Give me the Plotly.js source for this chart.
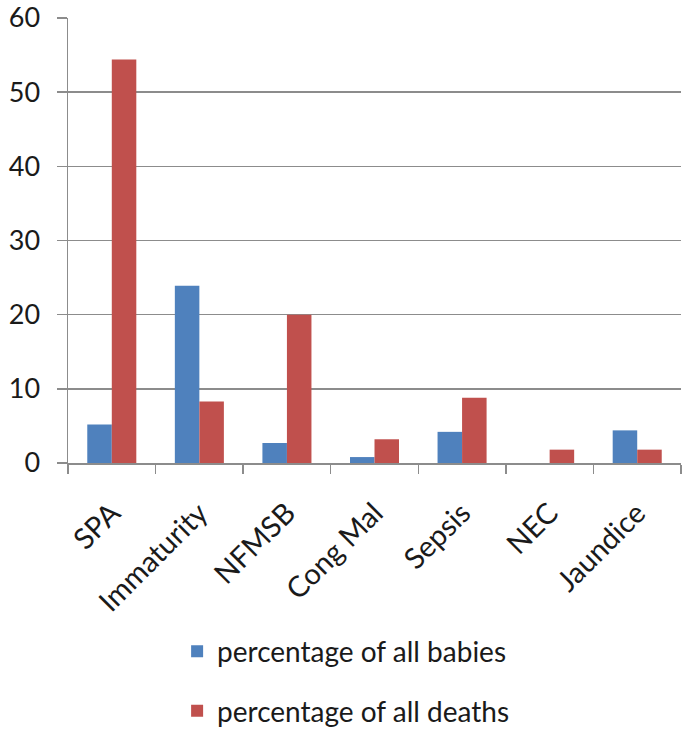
<!DOCTYPE html>
<html>
<head>
<meta charset="utf-8">
<script src="https://cdn.plot.ly/plotly-3.0.1.min.js"></script>
<style>
  html, body { margin: 0; padding: 0; background: #fff; }
  #chart { width: 686px; height: 732px; }
</style>
</head>
<body>
<div id="chart"></div>
<script>
// categories and series
const causes = ['SPA', 'Immaturity', 'NFMSB', 'Cong Mal', 'Sepsis', 'NEC', 'Jaundice'];
const pctBabies = [5.2, 23.9, 2.7, 0.8, 4.2, 0, 4.4];
const pctDeaths = [54.4, 8.3, 20, 3.2, 8.8, 1.8, 1.8];
const yTicks = [0, 10, 20, 30, 40, 50, 60];

const fontFam = 'Lato, "Open Sans", sans-serif';

let babies = {
    x: causes,
    y: pctBabies,
    name: 'percentage of all babies',
    type: 'bar',
    legendgroup: 'a',
    marker: { color: '#4F81BD', line: { width: 0 } }
};

let deaths = {
    x: causes,
    y: pctDeaths,
    name: 'percentage of all deaths',
    type: 'bar',
    legendgroup: 'b',
    marker: { color: '#C0504D', line: { width: 0 } }
};

let layout = {
    width: 686,
    height: 732,
    margin: { l: 68, r: 5, t: 18, b: 269, autoexpand: false },
    paper_bgcolor: '#ffffff',
    plot_bgcolor: '#ffffff',
    font: { family: fontFam, size: 26, color: '#1a1a1a' },
    barmode: 'group',
    bargap: 0.44,
    bargroupgap: 0,
    showlegend: true,
    legend: {
        orientation: 'v',
        x: 0.178,
        xanchor: 'left',
        yref: 'container',
        y: 0.144,
        yanchor: 'top',
        tracegroupgap: 20,
        font: { family: fontFam, size: 28, color: '#1a1a1a' },
        itemwidth: 30
    },
    xaxis: {
        type: 'category',
        tickangle: -45,
        tickson: 'boundaries',
        ticks: 'outside',
        ticklen: 9,
        tickwidth: 1.5,
        tickcolor: '#8c8c8c',
        ticklabelstandoff: 20,
        showline: true,
        linecolor: '#8c8c8c',
        linewidth: 1.5,
        showgrid: false,
        tickfont: { family: fontFam, size: 29, color: '#1a1a1a' },
        fixedrange: true
    },
    yaxis: {
        range: [0, 60],
        tickvals: yTicks,
        ticks: 'outside',
        ticklen: 10,
        tickwidth: 1.5,
        tickcolor: '#8c8c8c',
        ticklabelstandoff: 11,
        ticklabeloverflow: 'allow',
        showline: true,
        linecolor: '#8c8c8c',
        linewidth: 1.5,
        showgrid: true,
        gridcolor: '#8c8c8c',
        gridwidth: 1.5,
        zeroline: false,
        tickfont: { family: fontFam, size: 27, color: '#1a1a1a' },
        fixedrange: true
    }
};

Plotly.newPlot('chart', [babies, deaths], layout, { displayModeBar: false, staticPlot: true });
</script>
</body>
</html>
